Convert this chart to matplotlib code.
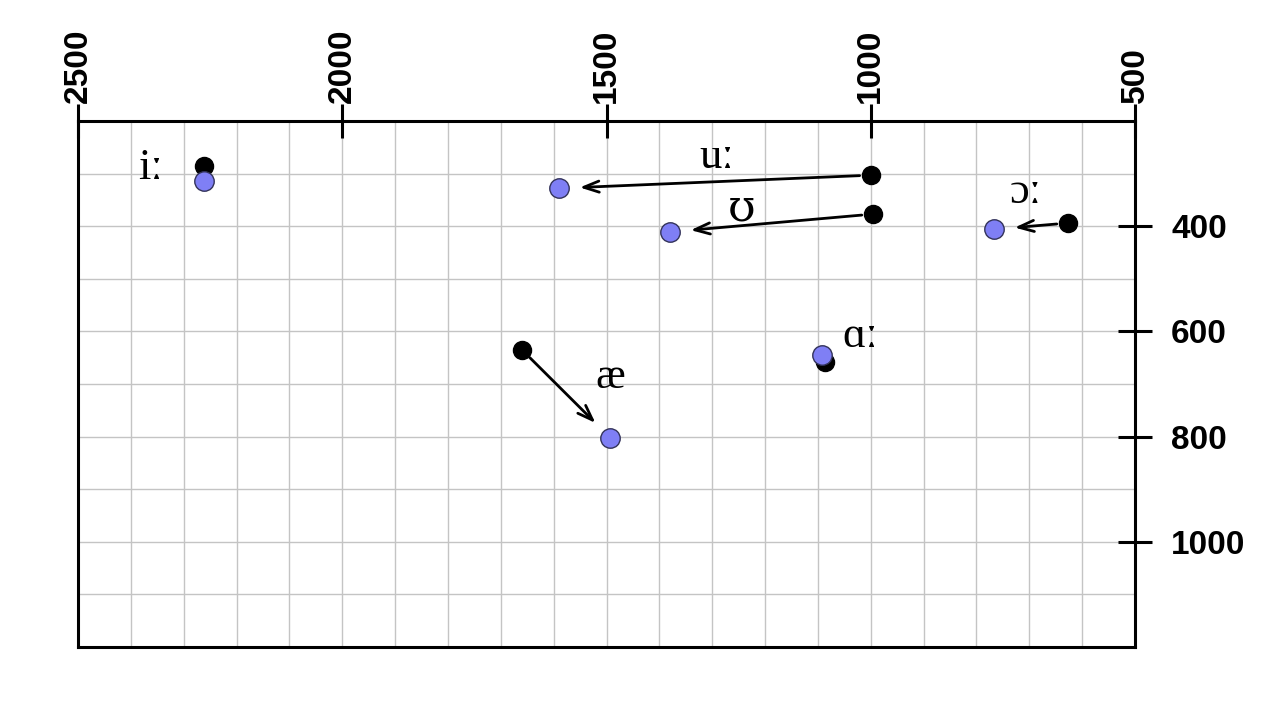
import matplotlib.pyplot as plt
from matplotlib import font_manager
from matplotlib.ticker import MultipleLocator, FixedLocator

# vowel formants (F2 on x, F1 on y), start (black) and end (blue)
vowels = ['iː', 'uː', 'ʊ', 'ɔː', 'ɑː', 'æ']
f2_start = [2262, 1000, 996, 627, 1087, 1660]
f1_start = [286, 303, 377, 394, 658, 635]
f2_end = [2262, 1590, 1380, 767, 1092, 1493]
f1_end = [315, 328, 411, 406, 645, 802]
draw_arrow = [False, True, True, True, False, True]

# label positions (text anchors)
label_x = [2362, 1291, 1244, 706, 1020, 1493]
label_y = [311, 290, 389, 355, 629, 707]

# pick the regular-width bold Liberation Sans (not the Narrow one)
tick_font = None
for f in font_manager.fontManager.ttflist:
    if f.name == 'Liberation Sans' and f.weight in (700, 'bold') and f.style == 'normal' \
            and 'Narrow' not in f.fname:
        tick_font = font_manager.FontProperties(fname=f.fname, size=24)
        break
if tick_font is None:
    tick_font = font_manager.FontProperties(family='DejaVu Sans', weight='bold', size=21)

fig = plt.figure(figsize=(12.61, 7.26), dpi=100)
ax = fig.add_axes([78 / 1261, 1 - 647 / 726, 1057 / 1261, 526 / 726])

ax.set_xlim(2500, 500)
ax.set_ylim(1200, 200)

for i in range(len(vowels)):
    if draw_arrow[i]:
        ax.annotate('', xy=(f2_end[i], f1_end[i]), xytext=(f2_start[i], f1_start[i]),
                    arrowprops=dict(arrowstyle='->,head_length=1.1,head_width=0.4',
                                    color='black', lw=2, shrinkA=8, shrinkB=15),
                    zorder=2)

ax.plot(f2_start, f1_start, 'o', color='black', markersize=13, zorder=3, linestyle='none')
ax.plot(f2_end, f1_end, 'o', markerfacecolor='#7f7ff5', markeredgecolor='#33335a',
        markeredgewidth=1, markersize=14, zorder=4, linestyle='none')

for i, v in enumerate(vowels):
    ax.text(label_x[i], label_y[i], v, fontsize=32, ha='center', va='baseline',
            family=['DejaVu Serif'] if v == 'ʊ' else ['Liberation Serif', 'DejaVu Serif'],
            zorder=5)

# ticks on top and right
ax.xaxis.set_major_locator(FixedLocator([2500, 2000, 1500, 1000, 500]))
ax.yaxis.set_major_locator(FixedLocator([400, 600, 800, 1000]))
ax.xaxis.set_minor_locator(MultipleLocator(100))
ax.yaxis.set_minor_locator(MultipleLocator(100))
ax.xaxis.tick_top()
ax.yaxis.tick_right()
ax.tick_params(which='major', direction='inout', length=24, width=2.2, pad=1)
ax.tick_params(axis='y', which='major', pad=14)
ax.tick_params(which='minor', length=0)
for lab in ax.get_xticklabels():
    lab.set_rotation(90)
    lab.set_fontproperties(tick_font)
for lab in ax.get_yticklabels():
    lab.set_fontproperties(tick_font)
    lab.set_va('center_baseline')

ax.grid(which='both', color='#c4c4c4', linewidth=1)
ax.set_axisbelow(True)
for s in ax.spines.values():
    s.set_linewidth(2.2)

fig.savefig('out.png', dpi=100)
